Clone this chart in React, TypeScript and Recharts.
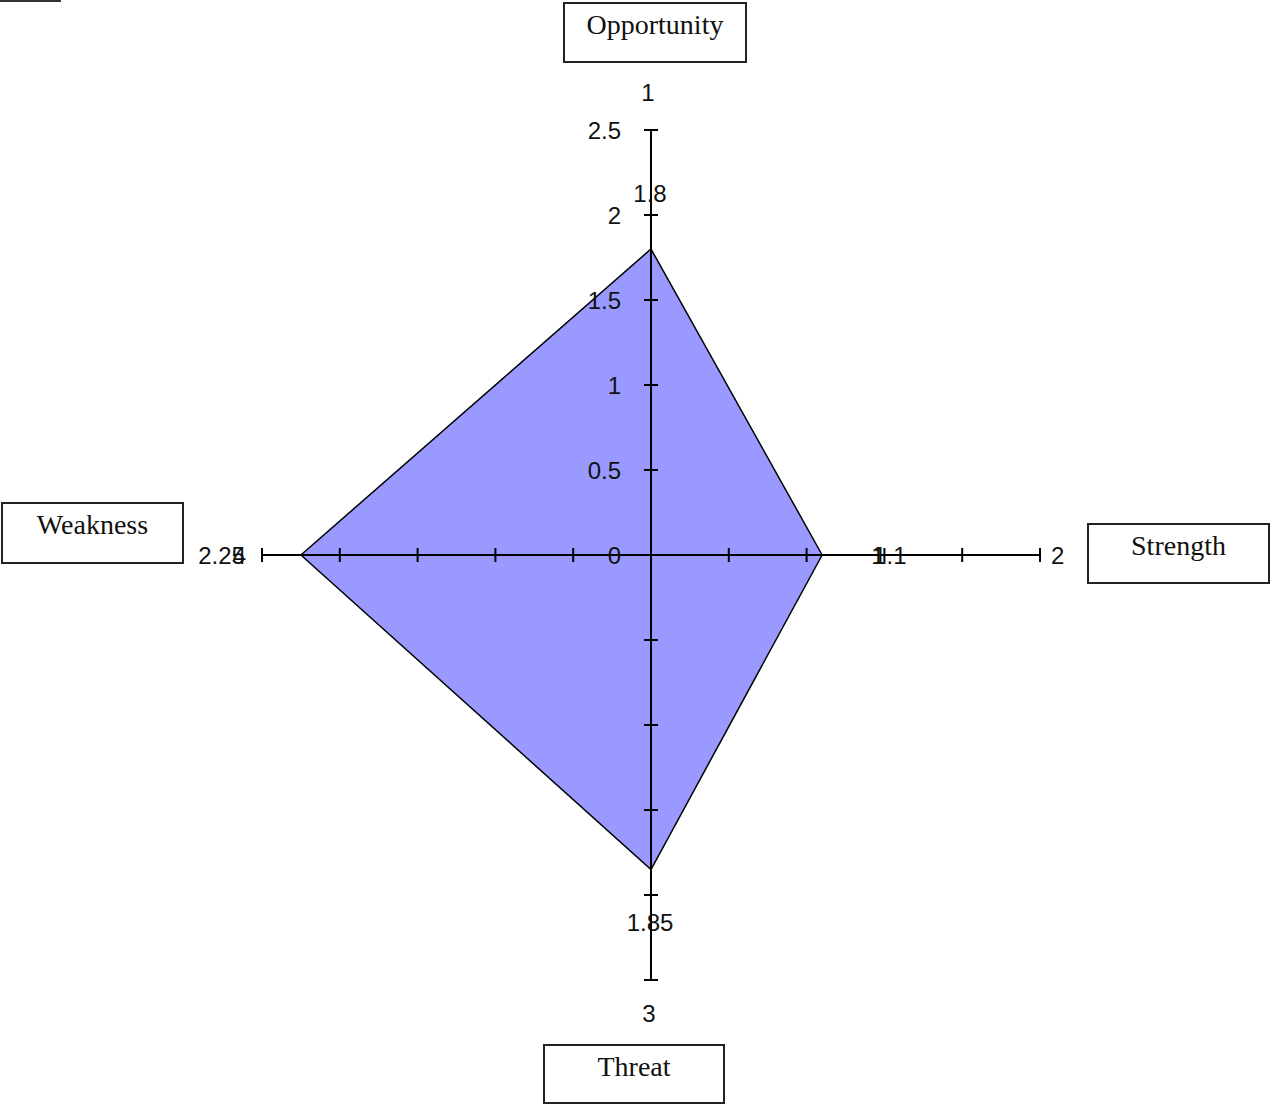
import React from "react";
import { ComposedChart, Area, XAxis, YAxis, ReferenceLine, ReferenceDot } from "recharts";

// ---- data ----
const categories = ["Opportunity", "Strength", "Threat", "Weakness"];
const values = [1.8, 1.1, 1.85, 2.25];
const categoryNumbers = ["1", "2", "3", "4"];
const axisTicks = [-2.5, -2, -1.5, -1, -0.5, 0.5, 1, 1.5, 2, 2.5];
const verticalTickLabels = [0, 0.5, 1, 1.5, 2, 2.5];
const axisMax = 2.5;
const strengthExtraLabel = "1";

// direction of each category axis (unit vector in data space)
const directions: Record<string, [number, number]> = {
  Opportunity: [0, 1],
  Strength: [1, 0],
  Threat: [0, -1],
  Weakness: [-1, 0],
};

const valueOf = (c: string) => values[categories.indexOf(c)];

// filled quadrilateral as a range area (low/high per x)
const areaData = [
  { x: -valueOf("Weakness"), band: [0, 0] },
  { x: 0, band: [-valueOf("Threat"), valueOf("Opportunity")] },
  { x: valueOf("Strength"), band: [0, 0] },
];

const NUM_FONT = "'Liberation Sans', Arial, sans-serif";
const SERIF_FONT = "'Liberation Serif', 'Times New Roman', serif";

// label placement offsets (pixels)
const valueLabelStyle: Record<string, { dx: number; dy: number; anchor: string }> = {
  Opportunity: { dx: -1, dy: -56, anchor: "middle" },
  Strength: { dx: 51, dy: 0, anchor: "start" },
  Threat: { dx: -1, dy: 53, anchor: "middle" },
  Weakness: { dx: -56, dy: 0, anchor: "end" },
};
const numberLabelStyle: Record<string, { dx: number; dy: number; anchor: string }> = {
  Opportunity: { dx: -3, dy: -38, anchor: "middle" },
  Strength: { dx: 11, dy: 0, anchor: "start" },
  Threat: { dx: -2, dy: 33, anchor: "middle" },
  Weakness: { dx: -16, dy: 0, anchor: "end" },
};

const boxStyles: Record<string, React.CSSProperties> = {
  Opportunity: { left: 563, top: 2, width: 184, height: 61 },
  Strength: { left: 1087, top: 523, width: 183, height: 61 },
  Threat: { left: 543, top: 1044, width: 182, height: 60 },
  Weakness: { left: 1, top: 502, width: 183, height: 62 },
};

const makeText = (text: string, dx: number, dy: number, anchor: string) => (p: any) =>
  (
    <text
      x={p.cx + dx}
      y={p.cy + dy}
      dy="0.355em"
      textAnchor={anchor as any}
      fontFamily={NUM_FONT}
      fontSize={24}
      fill="#111"
    >
      {text}
    </text>
  );

const hTick = (p: any) => (
  <line x1={p.cx} x2={p.cx} y1={p.cy - 7} y2={p.cy + 7} stroke="#000" strokeWidth={2} />
);
const vTick = (p: any) => (
  <line x1={p.cx - 7} x2={p.cx + 7} y1={p.cy} y2={p.cy} stroke="#000" strokeWidth={2} />
);

export default function App() {
  return (
    <div style={{ position: "absolute", left: 0, top: 0, width: 1270, height: 1104, background: "#fff", overflow: "hidden" }}>
      <ComposedChart
        width={1270}
        height={1104}
        data={areaData}
        margin={{ top: 130, right: 230, bottom: 124, left: 262 }}
      >
        <XAxis dataKey="x" type="number" domain={[-axisMax, axisMax]} hide allowDataOverflow />
        <YAxis type="number" domain={[-axisMax, axisMax]} hide allowDataOverflow />
        <Area
          dataKey="band"
          type="linear"
          fill="#9999FF"
          fillOpacity={1}
          stroke="#000"
          strokeWidth={1.5}
          dot={false}
          activeDot={false}
          isAnimationActive={false}
        />
        <ReferenceLine x={0} stroke="#000" strokeWidth={2} />
        <ReferenceLine y={0} stroke="#000" strokeWidth={2} />
        {axisTicks.map((t) => (
          <ReferenceDot key={"h" + t} x={t} y={0} r={0} shape={hTick} />
        ))}
        {axisTicks.map((t) => (
          <ReferenceDot key={"v" + t} x={0} y={t} r={0} shape={vTick} />
        ))}
        {verticalTickLabels.map((t) => (
          <ReferenceDot key={"vl" + t} x={0} y={t} r={0} shape={makeText(String(t), -30, 0, "end")} />
        ))}
        {categories.map((c, i) => {
          const [ux, uy] = directions[c];
          const s = numberLabelStyle[c];
          return (
            <ReferenceDot
              key={"n" + c}
              x={ux * axisMax}
              y={uy * axisMax}
              r={0}
              shape={makeText(categoryNumbers[i], s.dx, s.dy, s.anchor)}
            />
          );
        })}
        {categories.map((c, i) => {
          const [ux, uy] = directions[c];
          const s = valueLabelStyle[c];
          return (
            <ReferenceDot
              key={"val" + c}
              x={ux * values[i]}
              y={uy * values[i]}
              r={0}
              shape={makeText(String(values[i]), s.dx, s.dy, s.anchor)}
            />
          );
        })}
        <ReferenceDot
          x={valueOf("Strength")}
          y={0}
          r={0}
          shape={makeText(strengthExtraLabel, valueLabelStyle.Strength.dx - 2, 0, "start")}
        />
      </ComposedChart>
      {categories.map((c) => (
        <div
          key={"box" + c}
          style={{
            position: "absolute",
            ...boxStyles[c],
            boxSizing: "border-box",
            border: "2px solid #222",
            background: "#fff",
            fontFamily: SERIF_FONT,
            fontSize: 28,
            lineHeight: "32px",
            paddingTop: 5,
            textAlign: "center",
            color: "#111",
          }}
        >
          {c}
        </div>
      ))}
      <div style={{ position: "absolute", left: 0, top: 0, width: 61, height: 2, background: "#333" }} />
    </div>
  );
}
